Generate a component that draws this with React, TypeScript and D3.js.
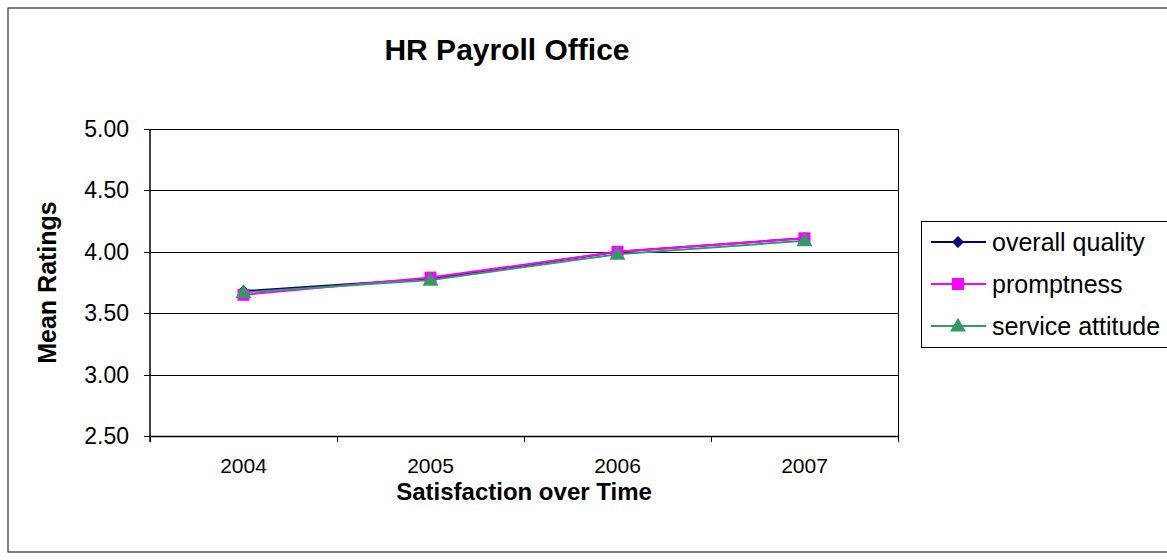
import React from "react";
import * as d3 from "d3";

const years = ["2004", "2005", "2006", "2007"];
const overallQuality = [3.68, 3.78, 4.0, 4.11];
const promptness = [3.65, 3.79, 4.0, 4.11];
const serviceAttitude = [3.67, 3.77, 3.98, 4.09];
const yTicks = [2.5, 3.0, 3.5, 4.0, 4.5, 5.0];
const seriesNames = ["overall quality", "promptness", "service attitude"];
const seriesColors = ["#000080", "#FF00FF", "#339966"];
const seriesShapes = ["diamond", "square", "triangle"];

const W = 1167;
const H = 560;
const plot = { left: 150, right: 898, top: 129, bottom: 436 };
const FONT = "Arial, 'Liberation Sans', sans-serif";

function Marker({ shape, x, y, color }: { shape: string; x: number; y: number; color: string }) {
  if (shape === "diamond") {
    const r = 6;
    return <path d={`M${x},${y - r}L${x + r},${y}L${x},${y + r}L${x - r},${y}Z`} fill={color} />;
  }
  if (shape === "square") {
    const s = 6;
    return <rect x={x - s} y={y - s} width={2 * s} height={2 * s} fill={color} />;
  }
  const s = d3.symbol().type(d3.symbolTriangle).size(110)();
  return <path d={s || ""} transform={`translate(${x},${y + 1})`} fill={color} />;
}

export default function App() {
  const x = d3.scaleBand().domain(years).range([plot.left, plot.right]).padding(0);
  const y = d3.scaleLinear().domain([2.5, 5.0]).range([plot.bottom, plot.top]);
  const data = [overallQuality, promptness, serviceAttitude];
  const line = d3
    .line<number>()
    .x((_, i) => (x(years[i]) as number) + x.bandwidth() / 2)
    .y((d) => y(d));
  const boundaries = [...years.map((yr) => x(yr) as number), plot.right];

  const legend = { x: 921, y: 221, w: 260, h: 126 };
  const legendRows = [242, 284, 326];

  return (
    <svg
      width={W}
      height={H}
      style={{ position: "absolute", left: 0, top: 0, background: "#fff" }}
      fontFamily={FONT}
    >
      <rect x={8} y={8} width={W + 10} height={544} fill="#fff" stroke="#000" strokeWidth={1} />
      <text x={507} y={60} textAnchor="middle" fontSize={30} fontWeight="bold">
        HR Payroll Office
      </text>

      {/* gridlines */}
      {yTicks.map((t) => (
        <line key={t} x1={plot.left} x2={plot.right} y1={Math.round(y(t)) + 0.5} y2={Math.round(y(t)) + 0.5} stroke="#000" strokeWidth={1} />
      ))}
      <line x1={plot.left} x2={plot.left} y1={plot.top} y2={plot.bottom + 6} stroke="#000" strokeWidth={1.5} />
      <line x1={plot.right + 0.5} x2={plot.right + 0.5} y1={plot.top} y2={plot.bottom} stroke="#000" strokeWidth={1} />
      <line x1={plot.left} x2={plot.right} y1={plot.bottom + 0.5} y2={plot.bottom + 0.5} stroke="#000" strokeWidth={1.5} />

      {/* y ticks */}
      {yTicks.map((t) => (
        <g key={"yt" + t}>
          <line x1={plot.left - 6} x2={plot.left} y1={Math.round(y(t)) + 0.5} y2={Math.round(y(t)) + 0.5} stroke="#000" />
          <text x={129} y={y(t)} dy="0.35em" textAnchor="end" fontSize={23}>
            {t.toFixed(2)}
          </text>
        </g>
      ))}

      {/* x ticks */}
      {boundaries.map((b, i) => (
        <line key={"xt" + i} x1={Math.round(b) + 0.5} x2={Math.round(b) + 0.5} y1={plot.bottom} y2={plot.bottom + 6} stroke="#000" />
      ))}
      {years.map((yr) => (
        <text key={yr} x={(x(yr) as number) + x.bandwidth() / 2} y={466} dy="0.35em" textAnchor="middle" fontSize={21}>
          {yr}
        </text>
      ))}

      <text x={524} y={492} dy="0.35em" textAnchor="middle" fontSize={24} fontWeight="bold">
        Satisfaction over Time
      </text>
      <text
        transform={`translate(47,${(plot.top + plot.bottom) / 2}) rotate(-90)`}
        dy="0.35em"
        textAnchor="middle"
        fontSize={25}
        fontWeight="bold"
      >
        Mean Ratings
      </text>

      {/* series */}
      {data.map((vals, si) => (
        <g key={"s" + si}>
          <path d={line(vals) || ""} fill="none" stroke={seriesColors[si]} strokeWidth={2} />
        </g>
      ))}
      {data.map((vals, si) => (
        <g key={"m" + si}>
          {vals.map((v, i) => (
            <Marker
              key={i}
              shape={seriesShapes[si]}
              x={(x(years[i]) as number) + x.bandwidth() / 2}
              y={y(v)}
              color={seriesColors[si]}
            />
          ))}
        </g>
      ))}

      {/* legend */}
      <rect x={legend.x + 0.5} y={legend.y + 0.5} width={legend.w} height={legend.h} fill="#fff" stroke="#000" strokeWidth={1} />
      {seriesNames.map((n, i) => (
        <g key={n}>
          <line x1={931} x2={986} y1={legendRows[i]} y2={legendRows[i]} stroke={seriesColors[i]} strokeWidth={2} />
          <Marker shape={seriesShapes[i]} x={958} y={legendRows[i]} color={seriesColors[i]} />
          <text x={992} y={legendRows[i]} dy="0.35em" fontSize={25}>
            {n}
          </text>
        </g>
      ))}
    </svg>
  );
}
